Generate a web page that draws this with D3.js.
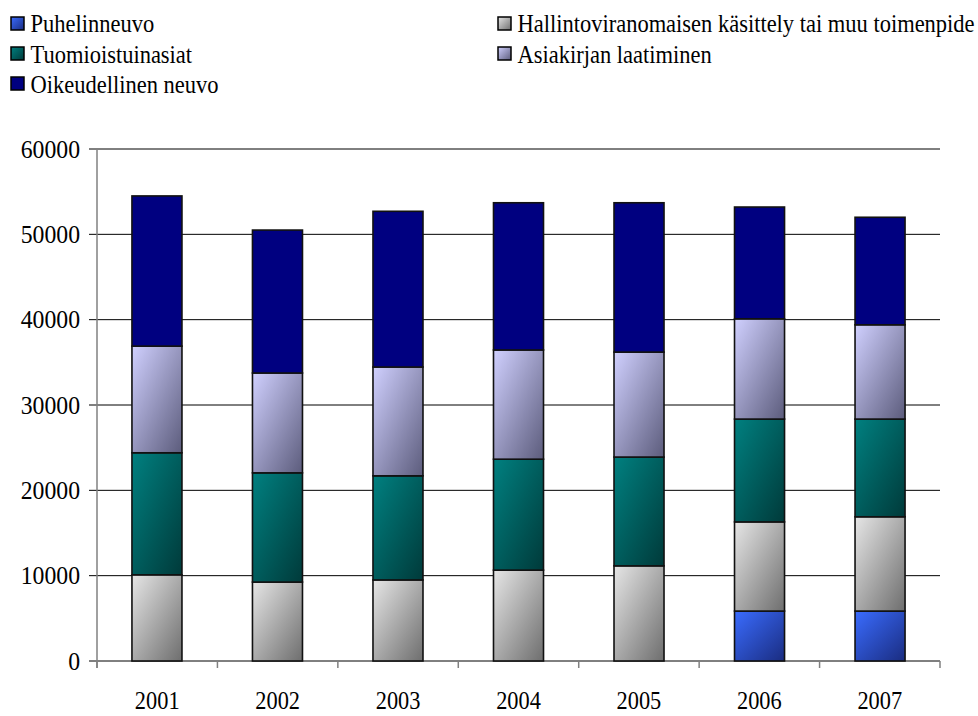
<!DOCTYPE html>
<html lang="fi">
<meta charset="utf-8">
<title>Stacked bars</title>
<style>
    body { margin: 0; background: white; }
</style>
<body>
<svg id="canvas"></svg>
<script src="https://cdn.jsdelivr.net/npm/d3@7"></script>
<script>

    ////////////////////// Data ///////////////////////
    var years   = ["2001", "2002", "2003", "2004", "2005", "2006", "2007"];
    var series  = ["Puhelinneuvo",
                   "Hallintoviranomaisen käsittely tai muu toimenpide",
                   "Tuomioistuinasiat",
                   "Asiakirjan laatiminen",
                   "Oikeudellinen neuvo"];
    var puhelin  = [0,     0,     0,     0,     0,     5850,  5850];
    var hallinto = [10100, 9250,  9500,  10650, 11150, 10450, 11050];
    var tuomio   = [14300, 12800, 12200, 13000, 12750, 12050, 11450];
    var asiakirja= [12500, 11700, 12750, 12800, 12300, 11750, 11050];
    var oikeus   = [17600, 16750, 18250, 17250, 17500, 13100, 12600];
    var y_ticks  = [0, 10000, 20000, 30000, 40000, 50000, 60000];
    ///////////////////////////////////////////////////

    var values = [puhelin, hallinto, tuomio, asiakirja, oikeus];

    ///////// Position and Dimension Variables ////////
    var width  = 978, height = 716;
    var margin = {left: 97, right: 38, top: 149, bottom: 55};
    var plot_w = width - margin.left - margin.right;
    var plot_h = height - margin.top - margin.bottom;
    // legend: square top-left and text baseline per item
    var leg_x  = [11, 498, 11, 498, 11];
    var leg_sq = [17, 17, 47, 47, 77];
    var leg_bl = [32, 32, 62.5, 62.5, 92.5];
    ///////////////////////////////////////////////////

    ///////////////// Style Variables /////////////////
    var font = '"Liberation Serif", "Times New Roman", serif';
    // gradient light -> dark, navy is flat
    var grad_colors = [["#3a6cff", "#1a2c80"],
                       ["#e6e6e6", "#6e6e6e"],
                       ["#008080", "#003a3a"],
                       ["#d0d0ff", "#5c5c7c"],
                       ["#000080", "#000080"]];
    ///////////////////////////////////////////////////

    var canvas = d3.select("#canvas")
        .attr('width',  width)
        .attr('height', height)
        .attr('font-family', font);

    var defs = canvas.append("defs");
    grad_colors.forEach(function (c, i) {
        var g = defs.append("linearGradient")
            .attr('id', 'grad' + i)
            .attr('x1', '0%').attr('y1', '0%')
            .attr('x2', '100%').attr('y2', '100%');
        g.append("stop").attr('offset', '0%').attr('stop-color', c[0]);
        g.append("stop").attr('offset', '100%').attr('stop-color', c[1]);
    });

    var x = d3.scaleBand().domain(years).range([0, plot_w]).paddingInner(0.585).paddingOuter(0.29);
    var xb = d3.scaleBand().domain(years).range([0, plot_w]);
    var y = d3.scaleLinear().domain([0, 60000]).range([plot_h, 0]);

    var plot = canvas.append("g")
        .attr('transform', 'translate(' + margin.left + ',' + margin.top + ')');

    //////////////////// grid lines ///////////////////
    plot.selectAll(".grid").data(y_ticks).enter().append("line")
        .attr('x1', -8).attr('x2', plot_w)
        .attr('y1', function (d) { return y(d); })
        .attr('y2', function (d) { return y(d); })
        .attr('stroke', 'black').attr('stroke-width', 1);

    // narrow serif look of the original: squeeze text horizontally
    plot.selectAll(".ylab").data(y_ticks).enter().append("text")
        .attr('transform', function (d) { return 'translate(-17,' + y(d) + ') scale(0.95,1)'; })
        .attr('dy', '0.34em')
        .attr('text-anchor', 'end')
        .attr('font-size', 25)
        .text(function (d) { return d; });

    // category ticks
    var bounds = years.map(function (d) { return xb(d); }).concat([plot_w]);
    plot.selectAll(".xtick").data(bounds).enter().append("line")
        .attr('x1', function (d) { return d; })
        .attr('x2', function (d) { return d; })
        .attr('y1', plot_h).attr('y2', plot_h + 7)
        .attr('stroke', '#808080').attr('stroke-width', 1.5);

    plot.selectAll(".xlab").data(years).enter().append("text")
        .attr('transform', function (d) {
            return 'translate(' + (xb(d) + xb.bandwidth() / 2) + ',' + (plot_h + 48) + ') scale(0.86,1)';
        })
        .attr('text-anchor', 'middle')
        .attr('font-size', 26)
        .text(function (d) { return d; });

    // y axis line
    plot.append("line")
        .attr('x1', 0).attr('x2', 0).attr('y1', 0).attr('y2', plot_h + 7)
        .attr('stroke', '#808080').attr('stroke-width', 1.5);

    ////////////////////// bars ///////////////////////
    var rows = years.map(function (yr, j) {
        var r = {year: yr};
        series.forEach(function (s, i) { r[s] = values[i][j]; });
        return r;
    });
    var stack = d3.stack().keys(series)(rows);

    stack.forEach(function (layer, i) {
        plot.selectAll(".bar" + i).data(layer.filter(function (d) { return d[1] > d[0]; }))
            .enter().append("rect")
            .attr('x', function (d) { return x(d.data.year); })
            .attr('width', x.bandwidth())
            .attr('y', function (d) { return y(d[1]); })
            .attr('height', function (d) { return y(d[0]) - y(d[1]); })
            .attr('fill', 'url(#grad' + i + ')')
            .attr('stroke', '#111')
            .attr('stroke-width', 1.6);
    });

    ///////////////////// legend //////////////////////
    series.forEach(function (s, i) {
        canvas.append("rect")
            .attr('x', leg_x[i]).attr('y', leg_sq[i]).attr('width', 13).attr('height', 13)
            .attr('fill', 'url(#grad' + i + ')')
            .attr('stroke', 'black').attr('stroke-width', 1.5);
        canvas.append("text")
            .attr('transform', 'translate(' + (leg_x[i] + 19.5) + ',' + leg_bl[i] + ') scale(0.9,1)')
            .attr('font-size', 25)
            .text(s);
    });

</script>
</body>
</html>
